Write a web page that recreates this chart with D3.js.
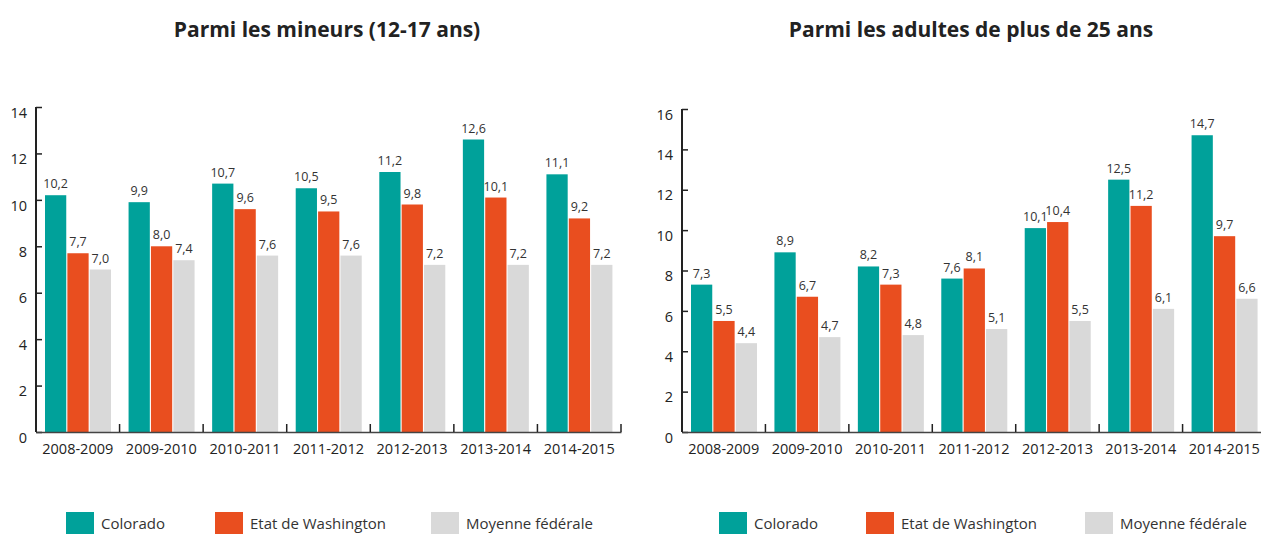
<!DOCTYPE html>
<html>
<head>
<meta charset="utf-8">
<title>Colorado / Washington</title>
<script src="https://d3js.org/d3.v7.min.js"></script>
<style>
  body { margin: 0; background: #fff; }
  svg text { font-family: "Open Sans", sans-serif; fill: #222; }
  .title { font-size: 21px; font-weight: bold; text-anchor: middle; }
  .val { font-size: 12.5px; text-anchor: middle; fill: #333; }
  .tick text { font-size: 14.5px; }
  .legend text { font-size: 15px; fill: #333; }
</style>
</head>
<body>
<svg id="chart" width="1261" height="534"></svg>
<script>
// periods on the x axis
const periods = ["2008-2009", "2009-2010", "2010-2011", "2011-2012", "2012-2013", "2013-2014", "2014-2015"];
const seriesNames = ["Colorado", "Etat de Washington", "Moyenne fédérale"];
const colors = ["#00a19a", "#e94e1f", "#d9d9d9"];

// mineurs 12-17 ans
const minColorado = [10.2, 9.9, 10.7, 10.5, 11.2, 12.6, 11.1];
const minWashington = [7.7, 8.0, 9.6, 9.5, 9.8, 10.1, 9.2];
const minFederal = [7.0, 7.4, 7.6, 7.6, 7.2, 7.2, 7.2];
const minTicks = [0, 2, 4, 6, 8, 10, 12, 14];

// adultes de plus de 25 ans
const adColorado = [7.3, 8.9, 8.2, 7.6, 10.1, 12.5, 14.7];
const adWashington = [5.5, 6.7, 7.3, 8.1, 10.4, 11.2, 9.7];
const adFederal = [4.4, 4.7, 4.8, 5.1, 5.5, 6.1, 6.6];
const adTicks = [0, 2, 4, 6, 8, 10, 12, 14, 16];

const svg = d3.select("#chart");
const fmt = v => v.toFixed(1).replace(".", ",");

function panel(opts) {
  const g = svg.append("g");
  const x = d3.scaleBand().domain(periods).range([opts.x0, opts.x1]);
  const x1 = d3.scaleBand().domain(seriesNames).range([9, 75]).paddingInner(0.05);
  const y = d3.scaleLinear().domain([0, opts.max]).range([432, opts.top]);

  g.append("text").attr("class", "title")
    .attr("x", opts.titleX).attr("y", 37).text(opts.title);

  const rows = periods.map((p, i) => ({
    period: p,
    vals: opts.series.map((s, j) => ({ name: seriesNames[j], v: s[i], c: colors[j] }))
  }));

  const grp = g.selectAll("g.grp").data(rows).enter().append("g")
    .attr("class", "grp")
    .attr("transform", d => "translate(" + x(d.period) + ",0)");

  grp.selectAll("rect").data(d => d.vals).enter().append("rect")
    .attr("x", d => x1(d.name))
    .attr("width", x1.bandwidth())
    .attr("y", d => y(d.v))
    .attr("height", d => y(0) - y(d.v))
    .attr("fill", d => d.c);

  grp.selectAll("text.val").data(d => d.vals).enter().append("text")
    .attr("class", "val")
    .attr("x", d => x1(d.name) + x1.bandwidth() / 2)
    .attr("y", d => y(d.v) - 7)
    .text(d => fmt(d.v));

  // y axis
  const ya = g.append("g").attr("transform", "translate(" + opts.x0 + ",0)")
    .call(d3.axisLeft(y).tickValues(opts.ticks).tickSize(-6).tickPadding(9));
  ya.select(".domain").attr("stroke", "#222").attr("stroke-width", 2)
    .attr("d", "M0," + opts.top + "V432");
  ya.selectAll(".tick line").attr("stroke", "#222").attr("stroke-width", 1.5);
  ya.selectAll(".tick text").attr("dy", "0.7em").attr("fill", "#222");

  // x axis
  const xa = g.append("g").attr("transform", "translate(0,432)")
    .call(d3.axisBottom(x).tickSize(0).tickPadding(12));
  xa.select(".domain").attr("stroke", "#444").attr("stroke-width", 1.5);
  xa.selectAll(".tick text").attr("fill", "#222");
  const bounds = periods.slice(1).map(p => x(p)).concat([opts.x1]);
  xa.selectAll("line.bnd").data(bounds).enter().append("line")
    .attr("class", "bnd")
    .attr("x1", d => d).attr("x2", d => d)
    .attr("y1", 0).attr("y2", -8)
    .attr("stroke", "#222").attr("stroke-width", 1.5);

  // legend
  const lg = g.append("g").attr("class", "legend");
  const items = lg.selectAll("g").data(seriesNames).enter().append("g")
    .attr("transform", (d, i) => "translate(" + opts.legendX[i] + ",512)");
  items.append("rect").attr("width", 28).attr("height", 24)
    .attr("fill", (d, i) => colors[i]);
  items.append("text").attr("x", 35).attr("y", 17).text(d => d);
}

panel({
  title: "Parmi les mineurs (12-17 ans)", titleX: 327,
  x0: 36, x1: 621, top: 107, max: 14, ticks: minTicks,
  series: [minColorado, minWashington, minFederal],
  legendX: [66, 215, 431]
});

panel({
  title: "Parmi les adultes de plus de 25 ans", titleX: 971,
  x0: 682, x1: 1266, top: 109, max: 16, ticks: adTicks,
  series: [adColorado, adWashington, adFederal],
  legendX: [719, 866, 1085]
});
</script>
</body>
</html>
